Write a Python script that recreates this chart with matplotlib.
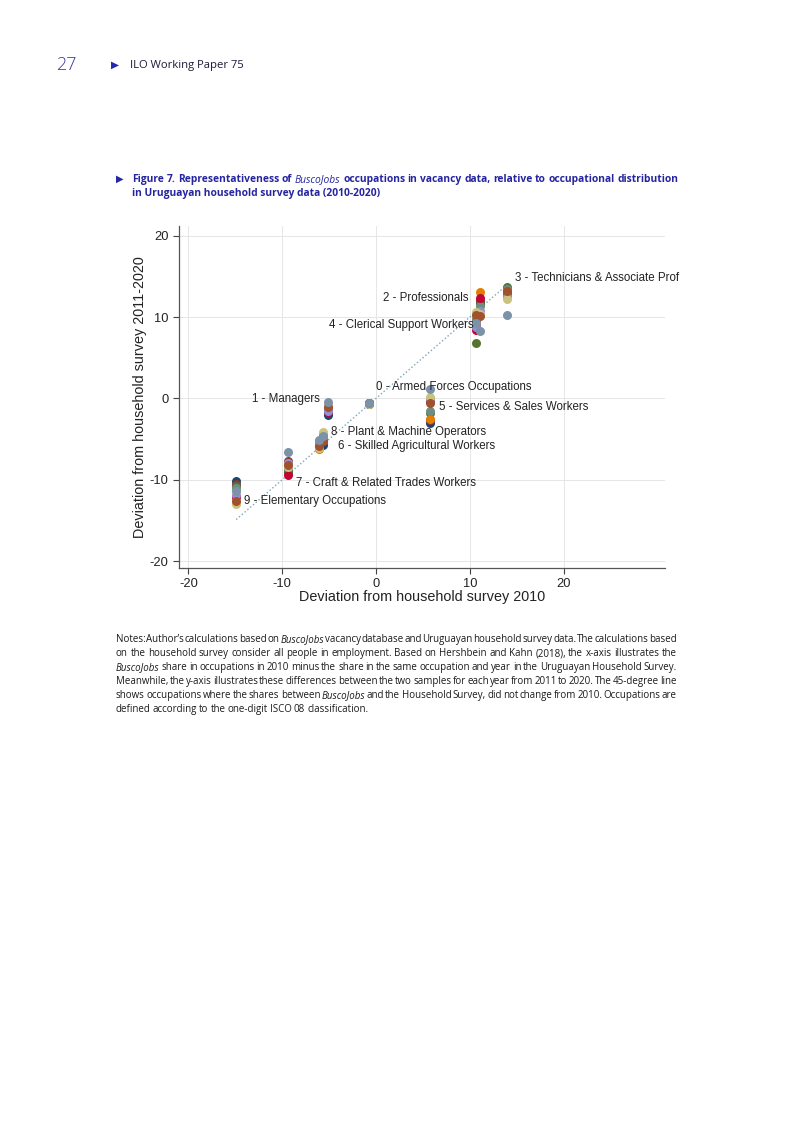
#!/usr/bin/env python3
import matplotlib
matplotlib.use("Agg")
import matplotlib.pyplot as plt
import numpy as np

W, H = 793, 1122
SANS = ["Open Sans", "Noto Sans", "DejaVu Sans"]
ARIAL = ["Liberation Sans", "DejaVu Sans"]
plt.rcParams["axes.unicode_minus"] = False

# one colour per survey year, Stata s2color order
years = list(range(2011, 2021))
year_colors = ["#1a476f", "#90353b", "#55752f", "#e37e00", "#6e8e84",
               "#c10534", "#938dd2", "#cac27e", "#a0522d", "#7b92a8"]

# occupation: deviation in 2010 (x) and deviations 2011..2020 (y)
occ_labels = ["0 - Armed Forces Occupations", "1 - Managers", "2 - Professionals",
              "3 - Technicians & Associate Prof", "4 - Clerical Support Workers",
              "5 - Services & Sales Workers", "6 - Skilled Agricultural Workers",
              "7 - Craft & Related Trades Workers", "8 - Plant & Machine Operators",
              "9 - Elementary Occupations"]
dev_2010 = [-0.8, -5.1, 11.1, 14.0, 10.7, 5.8, -6.1, -9.35, -5.6, -14.9]
dev_years = [
    [-0.7, -0.7, -0.6, -0.6, -0.7, -0.6, -0.6, -0.7, -0.6, -0.6],
    [-2.1, -1.3, -1.5, -0.9, -1.2, -1.7, -1.6, -0.8, -1.1, -0.5],
    [11.8, 12.0, 11.6, 13.1, 11.3, 12.3, 10.7, 10.4, 10.1, 8.3],
    [13.4, 12.9, 13.7, 13.0, 13.5, 12.7, 12.6, 12.2, 13.2, 10.3],
    [9.6, 9.0, 6.8, 10.4, 9.8, 8.4, 8.8, 10.6, 10.2, 9.3],
    [-3.0, -2.7, -1.8, -2.5, -1.5, -0.3, -0.1, 0.2, -0.6, 1.1],
    [-5.4, -5.9, -5.6, -6.2, -5.3, -6.0, -5.5, -6.1, -5.8, -5.1],
    [-9.1, -7.7, -8.9, -8.0, -8.6, -9.4, -7.9, -8.4, -8.2, -6.6],
    [-5.7, -5.0, -4.8, -4.4, -4.5, -5.2, -4.9, -4.1, -5.3, -4.6],
    [-10.1, -10.5, -10.8, -12.8, -11.0, -12.1, -11.9, -13.0, -12.6, -11.4],
]
# where each occupation label sits (data coords) and which side it hangs
label_pos = [(0.0, 1.4, "left"), (-5.95, -0.1, "right"), (9.85, 12.4, "right"),
             (14.8, 14.85, "left"), (10.35, 9.0, "right"), (6.67, -1.0, "left"),
             (-4.06, -5.8, "left"), (-8.5, -10.35, "left"), (-4.8, -4.1, "left"),
             (-14.1, -12.6, "left")]

ticks = [-20, -10, 0, 10, 20]

title_line1 = [("Figure", "b"), ("7.", "b"), ("Representativeness", "b"), ("of", "b"),
               ("BuscoJobs", "i"), ("occupations", "b"), ("in", "b"), ("vacancy", "b"),
               ("data,", "b"), ("relative", "b"), ("to", "b"), ("occupational", "b"),
               ("distribution", "b")]
title_line2 = "in Uruguayan household survey data (2010-2020)"

notes_lines = [
    "Notes: Author’s calculations based on *BuscoJobs* vacancy database and Uruguayan household survey data. The calculations based",
    "on the household survey consider all people in employment. Based on Hershbein and Kahn (2018), the x-axis illustrates the",
    "*BuscoJobs* share in occupations in 2010 minus the share in the same occupation and year in the Uruguayan Household Survey.",
    "Meanwhile, the y-axis illustrates these differences between the two samples for each year from 2011 to 2020. The 45-degree line",
    "shows occupations where the shares between *BuscoJobs* and the Household Survey, did not change from 2010.  Occupations are",
    "defined according to the one-digit ISCO 08 classification.",
]

fig = plt.figure(figsize=(W / 100, H / 100), dpi=100)
renderer = fig.canvas.get_renderer()


def fx(x):
    return x / W


def fy(y):
    return 1 - y / H


def width_of(t):
    return t.get_window_extent(renderer).width


def tokens_from(line):
    out = []
    for w in line.split():
        if w.startswith("*") and w.endswith("*"):
            out.append((w.strip("*"), "i"))
        else:
            out.append((w, "n"))
    return out


def make_texts(tokens, y, size, color):
    arts = []
    for w, st in tokens:
        arts.append(fig.text(fx(0), fy(y), w, fontsize=size, color=color, family=SANS,
                             style="italic" if st == "i" else "normal",
                             weight="bold" if st == "b" else "normal",
                             va="baseline", ha="left"))
    return arts


def space_width(size, weight="normal"):
    a = fig.text(0, 0, "x x", fontsize=size, family=SANS, weight=weight)
    b = fig.text(0, 0, "xx", fontsize=size, family=SANS, weight=weight)
    s = width_of(a) - width_of(b)
    a.remove()
    b.remove()
    return s


def place(arts, x0, gap):
    x = x0
    for a in arts:
        a.set_x(fx(x))
        x += width_of(a) + gap
    return x


# header
fig.text(fx(56), fy(70), "27", fontsize=13, color="#3a3aa6", family=SANS,
         weight="light", va="baseline")
fig.text(fx(111), fy(68), "▶", fontsize=7.5, color="#2424b8", family="DejaVu Sans",
         va="baseline")
hdr = fig.text(fx(130), fy(68), "ILO Working Paper 75", fontsize=8, color="#1b1b3b",
               family=SANS, va="baseline")
hdr.set_fontsize(8 * 115 / width_of(hdr))

# figure title, fitted to the reference line width
title_color = "#2525a0"
fig.text(fx(116), fy(182), "▶", fontsize=7, color=title_color, family="DejaVu Sans",
         va="baseline")
ts = 7.0
arts = make_texts(title_line1, 182, ts, title_color)
natural = sum(width_of(a) for a in arts) + space_width(ts, "bold") * (len(arts) - 1)
ts = ts * 545 / natural
for a in arts:
    a.set_fontsize(ts)
place(arts, 132, space_width(ts, "bold"))
fig.text(fx(132), fy(196), title_line2, fontsize=ts, color=title_color, family=SANS,
         weight="bold", va="baseline")

# notes, justified between the margins
ns = 6.5
probe = make_texts(tokens_from(notes_lines[3]), 0, ns, "k")
natural = sum(width_of(a) for a in probe) + space_width(ns) * 0.6 * (len(probe) - 1)
for a in probe:
    a.remove()
ns = ns * 560 / natural
for i, line in enumerate(notes_lines):
    y = 642 + 14 * i
    arts = make_texts(tokens_from(line), y, ns, "#1a1a1a")
    if i < len(notes_lines) - 1:
        gap = (677 - 116 - sum(width_of(a) for a in arts)) / (len(arts) - 1)
    else:
        gap = space_width(ns) * 0.8
    place(arts, 116, gap)

# chart
ax = fig.add_axes([fx(179), fy(568), (665 - 179) / W, (568 - 226) / H])
ax.set_xlim(-21.0, 30.8)
ax.set_ylim(-20.86, 21.2)

lo, hi = min(dev_2010), max(dev_2010)
ax.plot([lo, hi], [lo, hi], linestyle=":", color="#7fa6b6", lw=1.0, zorder=2)

for k, yr in enumerate(years):
    ax.scatter(dev_2010, [d[k] for d in dev_years], s=42, color=year_colors[k],
               linewidths=0, zorder=3 + k, label=str(yr))

for lab, (lx, ly, ha) in zip(occ_labels, label_pos):
    ax.text(lx, ly, lab, fontsize=8.3, family=ARIAL, color="#222222", ha=ha,
            va="center", zorder=20, clip_on=False)

ax.set_xticks(ticks)
ax.set_yticks(ticks)
ax.tick_params(labelsize=9.3, length=4, width=0.8, color="#444444", labelcolor="#222222")
for lab in ax.get_xticklabels() + ax.get_yticklabels():
    lab.set_family(ARIAL)
ax.grid(True, color="#e6e6e6", lw=0.7, zorder=0)
ax.set_axisbelow(True)
for side in ["top", "right"]:
    ax.spines[side].set_visible(False)
for side in ["left", "bottom"]:
    ax.spines[side].set_color("#555555")
    ax.spines[side].set_linewidth(0.9)
ax.set_xlabel("Deviation from household survey 2010", fontsize=10.4, family=ARIAL,
              color="#222222", labelpad=0)
ax.set_ylabel("Deviation from household survey 2011-2020", fontsize=10.4, family=ARIAL,
              color="#222222", labelpad=2)

fig.savefig("out.png", dpi=100)
